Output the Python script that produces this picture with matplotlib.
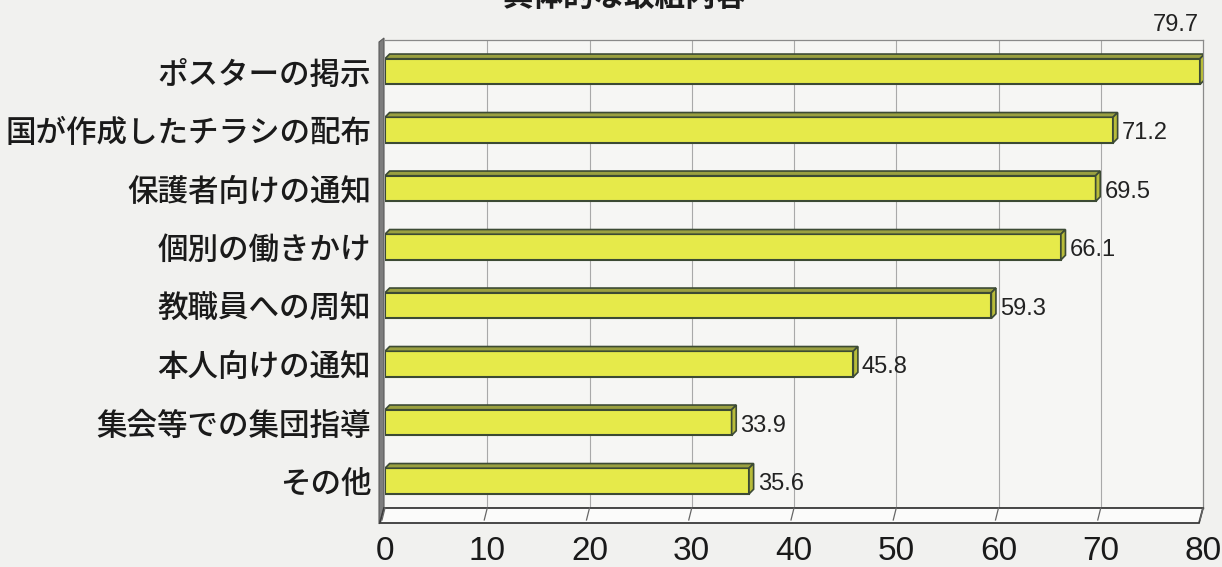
import matplotlib
matplotlib.use("Agg")
import matplotlib.pyplot as plt
from matplotlib.patches import Polygon
import numpy as np

plt.rcParams['font.family'] = ['Noto Sans CJK JP', 'DejaVu Sans']

categories = ["ポスターの掲示", "国が作成したチラシの配布", "保護者向けの通知", "個別の働きかけ",
              "教職員への周知", "本人向けの通知", "集会等での集団指導", "その他"]
values = [79.7, 71.2, 69.5, 66.1, 59.3, 45.8, 33.9, 35.6]
xticks = [0, 10, 20, 30, 40, 50, 60, 70, 80]
title = "具体的な取組内容"

bg = "#f1f1ef"
bar_color = "#e6ea4a"
top_color = "#9aa040"
edge_color = "#3c4a34"
num_font = ["Liberation Sans Narrow", "Liberation Sans", "DejaVu Sans"]

W, H = 1222, 567
fig = plt.figure(figsize=(W / 100, H / 100), dpi=100, facecolor=bg)
ax_l, ax_r, ax_t, ax_b = 385, 1203, 40, 508
ax = fig.add_axes([ax_l / W, 1 - ax_b / H, (ax_r - ax_l) / W, (ax_b - ax_t) / H])
ax.set_facecolor("#f6f6f4")

n = len(categories)
y = np.arange(n) + 0.04
ax.set_xlim(0, 80)
ax.set_ylim(n - 0.5, -0.5)

for xv in xticks[1:-1]:
    ax.axvline(xv, color="#a9a9a9", lw=0.8, zorder=1)

bh = 0.44
dx, dy = 0.45, 0.08
ax.barh(y, values, height=bh, color=bar_color, edgecolor=edge_color, lw=1.5, zorder=3)
for yi, v in zip(y, values):
    top = yi - bh / 2
    ax.add_patch(Polygon([(0, top), (v, top), (v + dx, top - dy), (dx, top - dy)], closed=True,
                         facecolor=top_color, edgecolor=edge_color, lw=1.2, zorder=4))
    ax.add_patch(Polygon([(v, top), (v + dx, top - dy), (v + dx, top + bh - dy), (v, top + bh)],
                         closed=True, facecolor="#b8bc3a", edgecolor=edge_color, lw=1.2, zorder=4))

for i, (yi, v) in enumerate(zip(y, values)):
    if i == 0:
        ax.text(v - 0.1, yi - 0.61, f"{v}", ha="right", va="bottom", fontsize=17,
                family=num_font, color="#222222", clip_on=False)
    else:
        ax.text(v + 0.85, yi + 0.05, f"{v}", ha="left", va="center", fontsize=17,
                family=num_font, color="#222222")

ax.set_yticks(y)
ax.set_yticklabels(categories, fontsize=22, color="#1a1a1a", weight="medium")
ax.set_xticks(xticks)
ax.set_xticklabels([str(t) for t in xticks], fontsize=24, color="#1a1a1a", family=num_font)
ax.tick_params(axis='y', length=0, pad=10)
ax.tick_params(axis='x', length=0, pad=20)

for s in ["top", "right"]:
    ax.spines[s].set_color("#8a8a8a")
    ax.spines[s].set_linewidth(0.9)
ax.spines["left"].set_visible(False)
ax.spines["bottom"].set_color("#555555")
ax.spines["bottom"].set_linewidth(1.0)

# left 3D wall
fig.patches.append(Polygon([(379 / W, 1 - 42 / H), (384 / W, 1 - 38 / H), (384 / W, 1 - 508 / H),
                            (379 / W, 1 - 524 / H)], closed=True, transform=fig.transFigure,
                           facecolor="#7d7d7d", edgecolor="#5a5a5a", lw=0.8, zorder=5))
# floor
fig.patches.append(Polygon([(384 / W, 1 - 508 / H), (ax_r / W, 1 - 508 / H), (1199 / W, 1 - 523 / H),
                            (380 / W, 1 - 523 / H)], closed=True, transform=fig.transFigure,
                           facecolor="#fbfbfa", edgecolor="#3a3a3a", lw=1.3, zorder=5))
# slanted floor ticks
for xv in xticks:
    xf = (ax_l + (ax_r - ax_l) * xv / 80) / W
    fig.lines.append(plt.Line2D([xf, xf - 3 / W], [1 - 508 / H, 1 - 520 / H], transform=fig.transFigure,
                                color="#666666", lw=0.9, zorder=6))

fig.text(0.511, 1 - 6 / H, title, ha="center", va="baseline", fontsize=22, weight="bold",
         color="#1c1c1c")

fig.savefig("out.png", dpi=100, facecolor=bg)
